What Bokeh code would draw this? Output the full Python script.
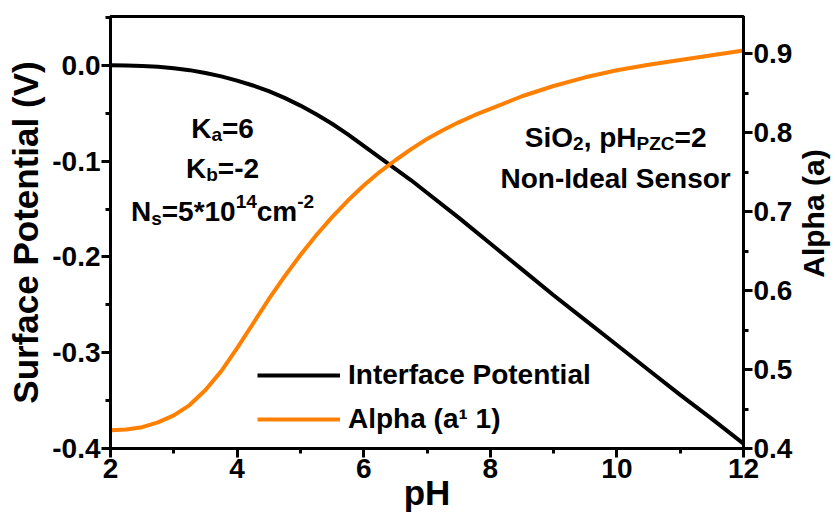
import math
from bokeh.plotting import figure
from bokeh.layouts import row
from bokeh.models import (Range1d, LinearAxis, Label, Legend, LegendItem,
                          FixedTicker, PrintfTickFormatter)
from bokeh.embed import file_html
from bokeh.resources import INLINE

# ---- data ----
ph_potential = [2.0, 2.25, 2.5, 2.75, 3.0, 3.25, 3.5, 3.75, 4.0, 4.25, 4.5,
                4.75, 5.0, 5.25, 5.5, 5.75, 6.0, 6.25, 6.5, 6.75, 7.0,
                7.5, 8.0, 8.5, 9.0, 9.5, 10.0, 10.5, 11.0, 11.5, 12.0]
surface_potential = [0.000, -0.0002, -0.0006, -0.0015, -0.003, -0.005, -0.008,
                     -0.0115, -0.016, -0.021, -0.027, -0.034, -0.042, -0.051,
                     -0.061, -0.072, -0.084, -0.096, -0.108, -0.120, -0.133,
                     -0.159, -0.186, -0.213, -0.240, -0.266, -0.292, -0.318,
                     -0.344, -0.369, -0.395]
ph_alpha = [2.0, 2.25, 2.5, 2.75, 3.0, 3.25, 3.5, 3.75, 4.0, 4.25, 4.5,
            4.75, 5.0, 5.25, 5.5, 5.75, 6.0, 6.25, 6.5, 6.75, 7.0, 7.25,
            7.5, 7.75, 8.0, 8.5, 9.0, 9.5, 10.0, 10.5, 11.0, 11.5, 12.0]
alpha = [0.423, 0.424, 0.427, 0.433, 0.442, 0.455, 0.474, 0.498, 0.527, 0.558,
         0.589, 0.618, 0.645, 0.670, 0.693, 0.714, 0.733, 0.750, 0.765, 0.779,
         0.792, 0.803, 0.813, 0.822, 0.830, 0.846, 0.859, 0.870, 0.879, 0.886,
         0.892, 0.898, 0.904]

x_ticks = [2, 4, 6, 8, 10, 12]
x_minor = [3, 5, 7, 9, 11]
left_ticks = [-0.4, -0.3, -0.2, -0.1, 0.0]
left_minor = [-0.35, -0.25, -0.15, -0.05, 0.05]
right_ticks = [0.4, 0.5, 0.6, 0.7, 0.8, 0.9]
right_minor = [0.45, 0.55, 0.65, 0.75, 0.85]

FONT = "Liberation Sans"
SIDE_W = 38          # narrow strip to the right that holds the right-axis title
H = 514
TOP, BOTTOM = 16, 66

alpha_range = Range1d(0.4, 0.947)

p = figure(width=835 - SIDE_W, height=H, output_backend="svg",
           toolbar_location=None,
           x_range=Range1d(2, 12), y_range=Range1d(-0.4, 0.051),
           min_border_left=110, min_border_right=835 - SIDE_W - 743,
           min_border_top=TOP, min_border_bottom=BOTTOM)
p.extra_y_ranges = {"alpha": alpha_range}
p.grid.visible = False
p.outline_line_color = "black"
p.outline_line_width = 3
p.outline_line_alpha = 1.0
p.background_fill_color = "white"
p.border_fill_color = "white"


def style_axis(ax):
    ax.axis_line_width = 3
    ax.axis_line_color = "black"
    ax.major_tick_line_width = 3
    ax.minor_tick_line_width = 3
    ax.major_tick_in = 0
    ax.major_tick_out = 9
    ax.minor_tick_in = 0
    ax.minor_tick_out = 5
    ax.major_label_text_font = FONT
    ax.major_label_text_font_style = "bold"
    ax.major_label_text_font_size = "28px"
    ax.major_label_text_color = "black"
    ax.major_label_standoff = 1
    ax.axis_label_text_font = FONT
    ax.axis_label_text_font_style = "bold"
    ax.axis_label_text_color = "black"


xa = p.xaxis[0]
style_axis(xa)
xa.ticker = FixedTicker(ticks=x_ticks, minor_ticks=x_minor)
xa.formatter = PrintfTickFormatter(format="%d")
xa.axis_label = "pH"
xa.axis_label_text_font_size = "35px"
xa.axis_label_standoff = -8

ya = p.yaxis[0]
style_axis(ya)
ya.ticker = FixedTicker(ticks=left_ticks, minor_ticks=left_minor)
ya.formatter = PrintfTickFormatter(format="%.1f")
ya.axis_label = "Surface Potential (V)"
ya.axis_label_text_font_size = "35px"
ya.axis_label_standoff = 4

ra = LinearAxis(y_range_name="alpha")
style_axis(ra)
ra.ticker = FixedTicker(ticks=right_ticks, minor_ticks=right_minor)
ra.formatter = PrintfTickFormatter(format="%.1f")
p.add_layout(ra, "right")

r1 = p.line(ph_potential, surface_potential, line_color="black", line_width=4)
r2 = p.line(ph_alpha, alpha, line_color="#ff8000", line_width=4,
            y_range_name="alpha")

legend = Legend(items=[LegendItem(label="Interface Potential", renderers=[r1]),
                       LegendItem(label="Alpha (a\u00b9 1)", renderers=[r2])],
                location=(147, 13), glyph_width=83, glyph_height=30,
                label_standoff=8, spacing=12, padding=0, margin=0,
                border_line_alpha=0, background_fill_alpha=0,
                label_text_font=FONT, label_text_font_style="bold",
                label_text_font_size="28px", label_text_color="black")
p.add_layout(legend)

# Arial/Liberation Sans Bold advance widths (per 1000 em)
W = {' ': 278, '(': 333, ')': 333, '*': 389, ',': 278, '-': 333, '.': 278,
     '=': 584, 'A': 722, 'C': 722, 'H': 722, 'I': 278, 'K': 722, 'N': 722,
     'O': 778, 'P': 667, 'S': 667, 'Z': 611, 'a': 556, 'b': 611, 'c': 556,
     'd': 611, 'e': 556, 'h': 611, 'i': 278, 'l': 278, 'm': 889, 'n': 611,
     'o': 611, 'p': 611, 'r': 389, 's': 556, 't': 333}
for d in "0123456789":
    W[d] = 556


def tw(s, size):
    return sum(W.get(c, 556) for c in s) * size / 1000.0


def rich_label(cx, cy, runs):
    total = sum(tw(t, s) for t, s, _ in runs)
    off = -total / 2.0
    for t, s, dy in runs:
        p.add_layout(Label(x=cx, y=cy, x_offset=off, y_offset=dy, text=t,
                           text_font=FONT, text_font_style="bold",
                           text_font_size=f"{s}px", text_align="left",
                           text_baseline="alphabetic", text_color="black"))
        off += tw(t, s)


M, S = 28, 19
rich_label(3.77, -0.0658, [("K", M, 0), ("a", S, -6), ("=6", M, 0)])
rich_label(3.77, -0.1076, [("K", M, 0), ("b", S, -6), ("=-2", M, 0)])
rich_label(3.77, -0.1525, [("N", M, 0), ("s", S, -7), ("=5*10", M, 0),
                           ("14", S, 10), ("cm", M, 0), ("-2", S, 10)])
rich_label(9.98, -0.0752, [("SiO", M, 0), ("2", S, -6), (", pH", M, 0),
                           ("PZC", S, -6), ("=2", M, 0)])
rich_label(9.98, -0.118, [("Non-Ideal Sensor", M, 0)])

# right-axis title strip, frame aligned with the main plot's frame,
# text reading bottom-to-top as in the reference
side = figure(width=SIDE_W, height=H, output_backend="svg",
              toolbar_location=None, x_axis_location=None,
              y_axis_location=None, x_range=Range1d(0, SIDE_W),
              y_range=Range1d(alpha_range.start, alpha_range.end),
              min_border_left=0, min_border_right=0,
              min_border_top=TOP, min_border_bottom=BOTTOM)
side.grid.visible = False
side.outline_line_color = None
side.border_fill_color = "white"
side.background_fill_color = "white"
side.add_layout(Label(x=16, y=0.6975, angle=math.pi / 2, text="Alpha (a)",
                      text_align="center", text_baseline="middle",
                      text_font=FONT, text_font_style="bold",
                      text_font_size="30px", text_color="black"))

layout = row(p, side, spacing=0)
open("out.html", "w").write(file_html(layout, INLINE))
